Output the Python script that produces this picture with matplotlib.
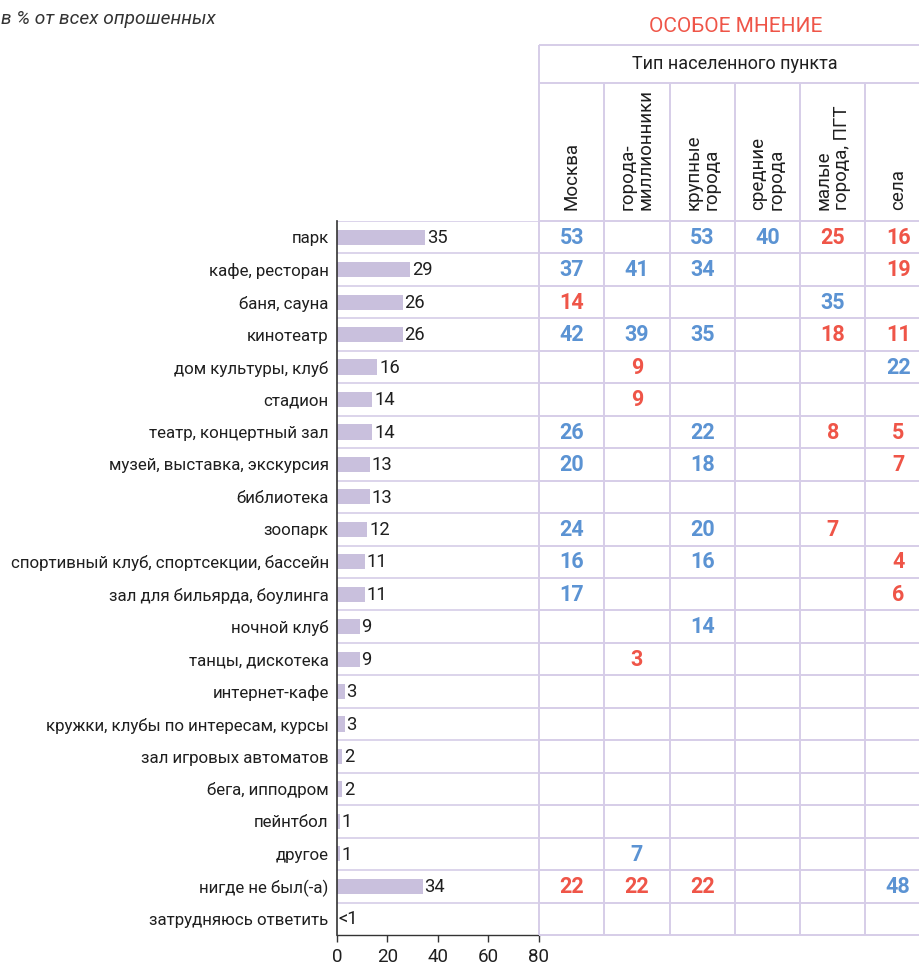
import matplotlib
matplotlib.use("Agg")
import matplotlib.pyplot as plt

plt.rcParams['font.family'] = ['Roboto', 'DejaVu Sans']

# ---------------- data ----------------
categories = ["парк", "кафе, ресторан", "баня, сауна", "кинотеатр", "дом культуры, клуб",
              "стадион", "театр, концертный зал", "музей, выставка, экскурсия", "библиотека",
              "зоопарк", "спортивный клуб, спортсекции, бассейн", "зал для бильярда, боулинга",
              "ночной клуб", "танцы, дискотека", "интернет-кафе",
              "кружки, клубы по интересам, курсы", "зал игровых автоматов", "бега, ипподром",
              "пейнтбол", "другое", "нигде не был(-а)", "затрудняюсь ответить"]
values = [35, 29, 26, 26, 16, 14, 14, 13, 13, 12, 11, 11, 9, 9, 3, 3, 2, 2, 1, 1, 34, 0]
value_labels = ["35", "29", "26", "26", "16", "14", "14", "13", "13", "12", "11", "11",
                "9", "9", "3", "3", "2", "2", "1", "1", "34", "<1"]
x_ticks = [0, 20, 40, 60, 80]

columns = ["Москва", "города-\nмиллионники", "крупные\nгорода", "средние\nгорода",
           "малые\nгорода, ПГТ", "села"]
# table cells: (row, value, colour-kind)  b = blue, r = red
moscow   = [(0, 53, "b"), (1, 37, "b"), (2, 14, "r"), (3, 42, "b"), (6, 26, "b"), (7, 20, "b"),
            (9, 24, "b"), (10, 16, "b"), (11, 17, "b"), (20, 22, "r")]
millions = [(1, 41, "b"), (3, 39, "b"), (4, 9, "r"), (5, 9, "r"), (13, 3, "r"), (19, 7, "b"),
            (20, 22, "r")]
large    = [(0, 53, "b"), (1, 34, "b"), (3, 35, "b"), (6, 22, "b"), (7, 18, "b"), (9, 20, "b"),
            (10, 16, "b"), (12, 14, "b"), (20, 22, "r")]
medium   = [(0, 40, "b")]
small    = [(0, 25, "r"), (2, 35, "b"), (3, 18, "r"), (6, 8, "r"), (9, 7, "r")]
villages = [(0, 16, "r"), (1, 19, "r"), (3, 11, "r"), (4, 22, "b"), (6, 5, "r"), (7, 7, "r"),
            (10, 4, "r"), (11, 6, "r"), (20, 48, "b")]
table_cols = [moscow, millions, large, medium, small, villages]

# ---------------- style ----------------
BAR = "#C9C0DD"
GRID = "#D6CDE8"
BLUE = "#5B93D3"
RED = "#EF5548"
TXT = "#1f1f1f"

W, H = 920, 964
fig = plt.figure(figsize=(W / 100, H / 100), dpi=100)

def fx(px):
    return px / W

def fy(py):
    return 1 - py / H

n = len(categories)
row_top, row_bot = 221, 935
pitch = (row_bot - row_top) / n
x0, x80 = 337, 539

# bar axes
ax = fig.add_axes([fx(x0), fy(row_bot), fx(x80) - fx(x0), fy(row_top) - fy(row_bot)])
ypos = [i + 0.5 for i in range(n)]
ax.barh(ypos, values, height=0.47, color=BAR, zorder=2)
ax.set_xlim(0, 80)
ax.set_ylim(n, 0)
for i in range(n):
    ax.axhline(i, color=GRID, lw=1.2, zorder=1)
for y, v, lab in zip(ypos, values, value_labels):
    ax.text(v + 0.7, y + 0.02, lab, ha="left", va="center", fontsize=13.2, color=TXT)
ax.set_yticks(ypos)
ax.set_yticklabels(categories, fontsize=12.2, color=TXT)
ax.tick_params(axis="y", length=0, pad=6)
ax.set_xticks(x_ticks)
ax.set_xticklabels([str(t) for t in x_ticks], fontsize=13.5, color=TXT)
ax.tick_params(axis="x", length=5, width=1, color="#333333", pad=4)
for s in ["top", "right"]:
    ax.spines[s].set_visible(False)
ax.spines["left"].set_color("#333333")
ax.spines["bottom"].set_color("#333333")
ax.spines["left"].set_linewidth(1.2)
ax.spines["bottom"].set_linewidth(1.0)

# table axes
col_w = 65.3
top_border, head_line = 45, 83
tab_right = W
tx = fig.add_axes([fx(x80), fy(row_bot), fx(tab_right) - fx(x80), fy(top_border) - fy(row_bot)])
ncols_vis = (tab_right - x80) / col_w
y_top = -(row_top - top_border) / pitch
y_head = -(row_top - head_line) / pitch
tx.set_xlim(0, ncols_vis)
tx.set_ylim(n, y_top)
tx.axis("off")

lk = dict(color=GRID, lw=1.4, solid_capstyle="butt", clip_on=False)
tx.plot([0, ncols_vis], [y_top, y_top], **lk)
tx.plot([0, ncols_vis], [y_head, y_head], **lk)
for i in range(n + 1):
    tx.plot([0, ncols_vis], [i, i], **lk)
tx.plot([0, 0], [y_top, n], **lk)
for c in range(1, len(columns)):
    tx.plot([c, c], [y_head, n], **lk)

tx.text(3.0, (y_top + y_head) / 2, "Тип населенного пункта",
        ha="center", va="center", fontsize=13, color=TXT)
for c, name in enumerate(columns):
    tx.text(c + 0.5, -0.35, name, rotation=90, ha="center", va="bottom",
            multialignment="left", fontsize=13.5, color=TXT, linespacing=1.0)

for c, cells in enumerate(table_cols):
    for r, v, kind in cells:
        tx.text(c + 0.5, r + 0.52, str(v), ha="center", va="center", fontsize=15.5,
                fontweight="bold", color=BLUE if kind == "b" else RED)

fig.text(fx(736), fy(26), "ОСОБОЕ МНЕНИЕ", ha="center", va="center", fontsize=15, color=RED)
fig.text(fx(1), fy(19), "в % от всех опрошенных", ha="left", va="center", fontsize=13.8,
         style="italic", color="#333333")

fig.savefig("out.png", dpi=100)
